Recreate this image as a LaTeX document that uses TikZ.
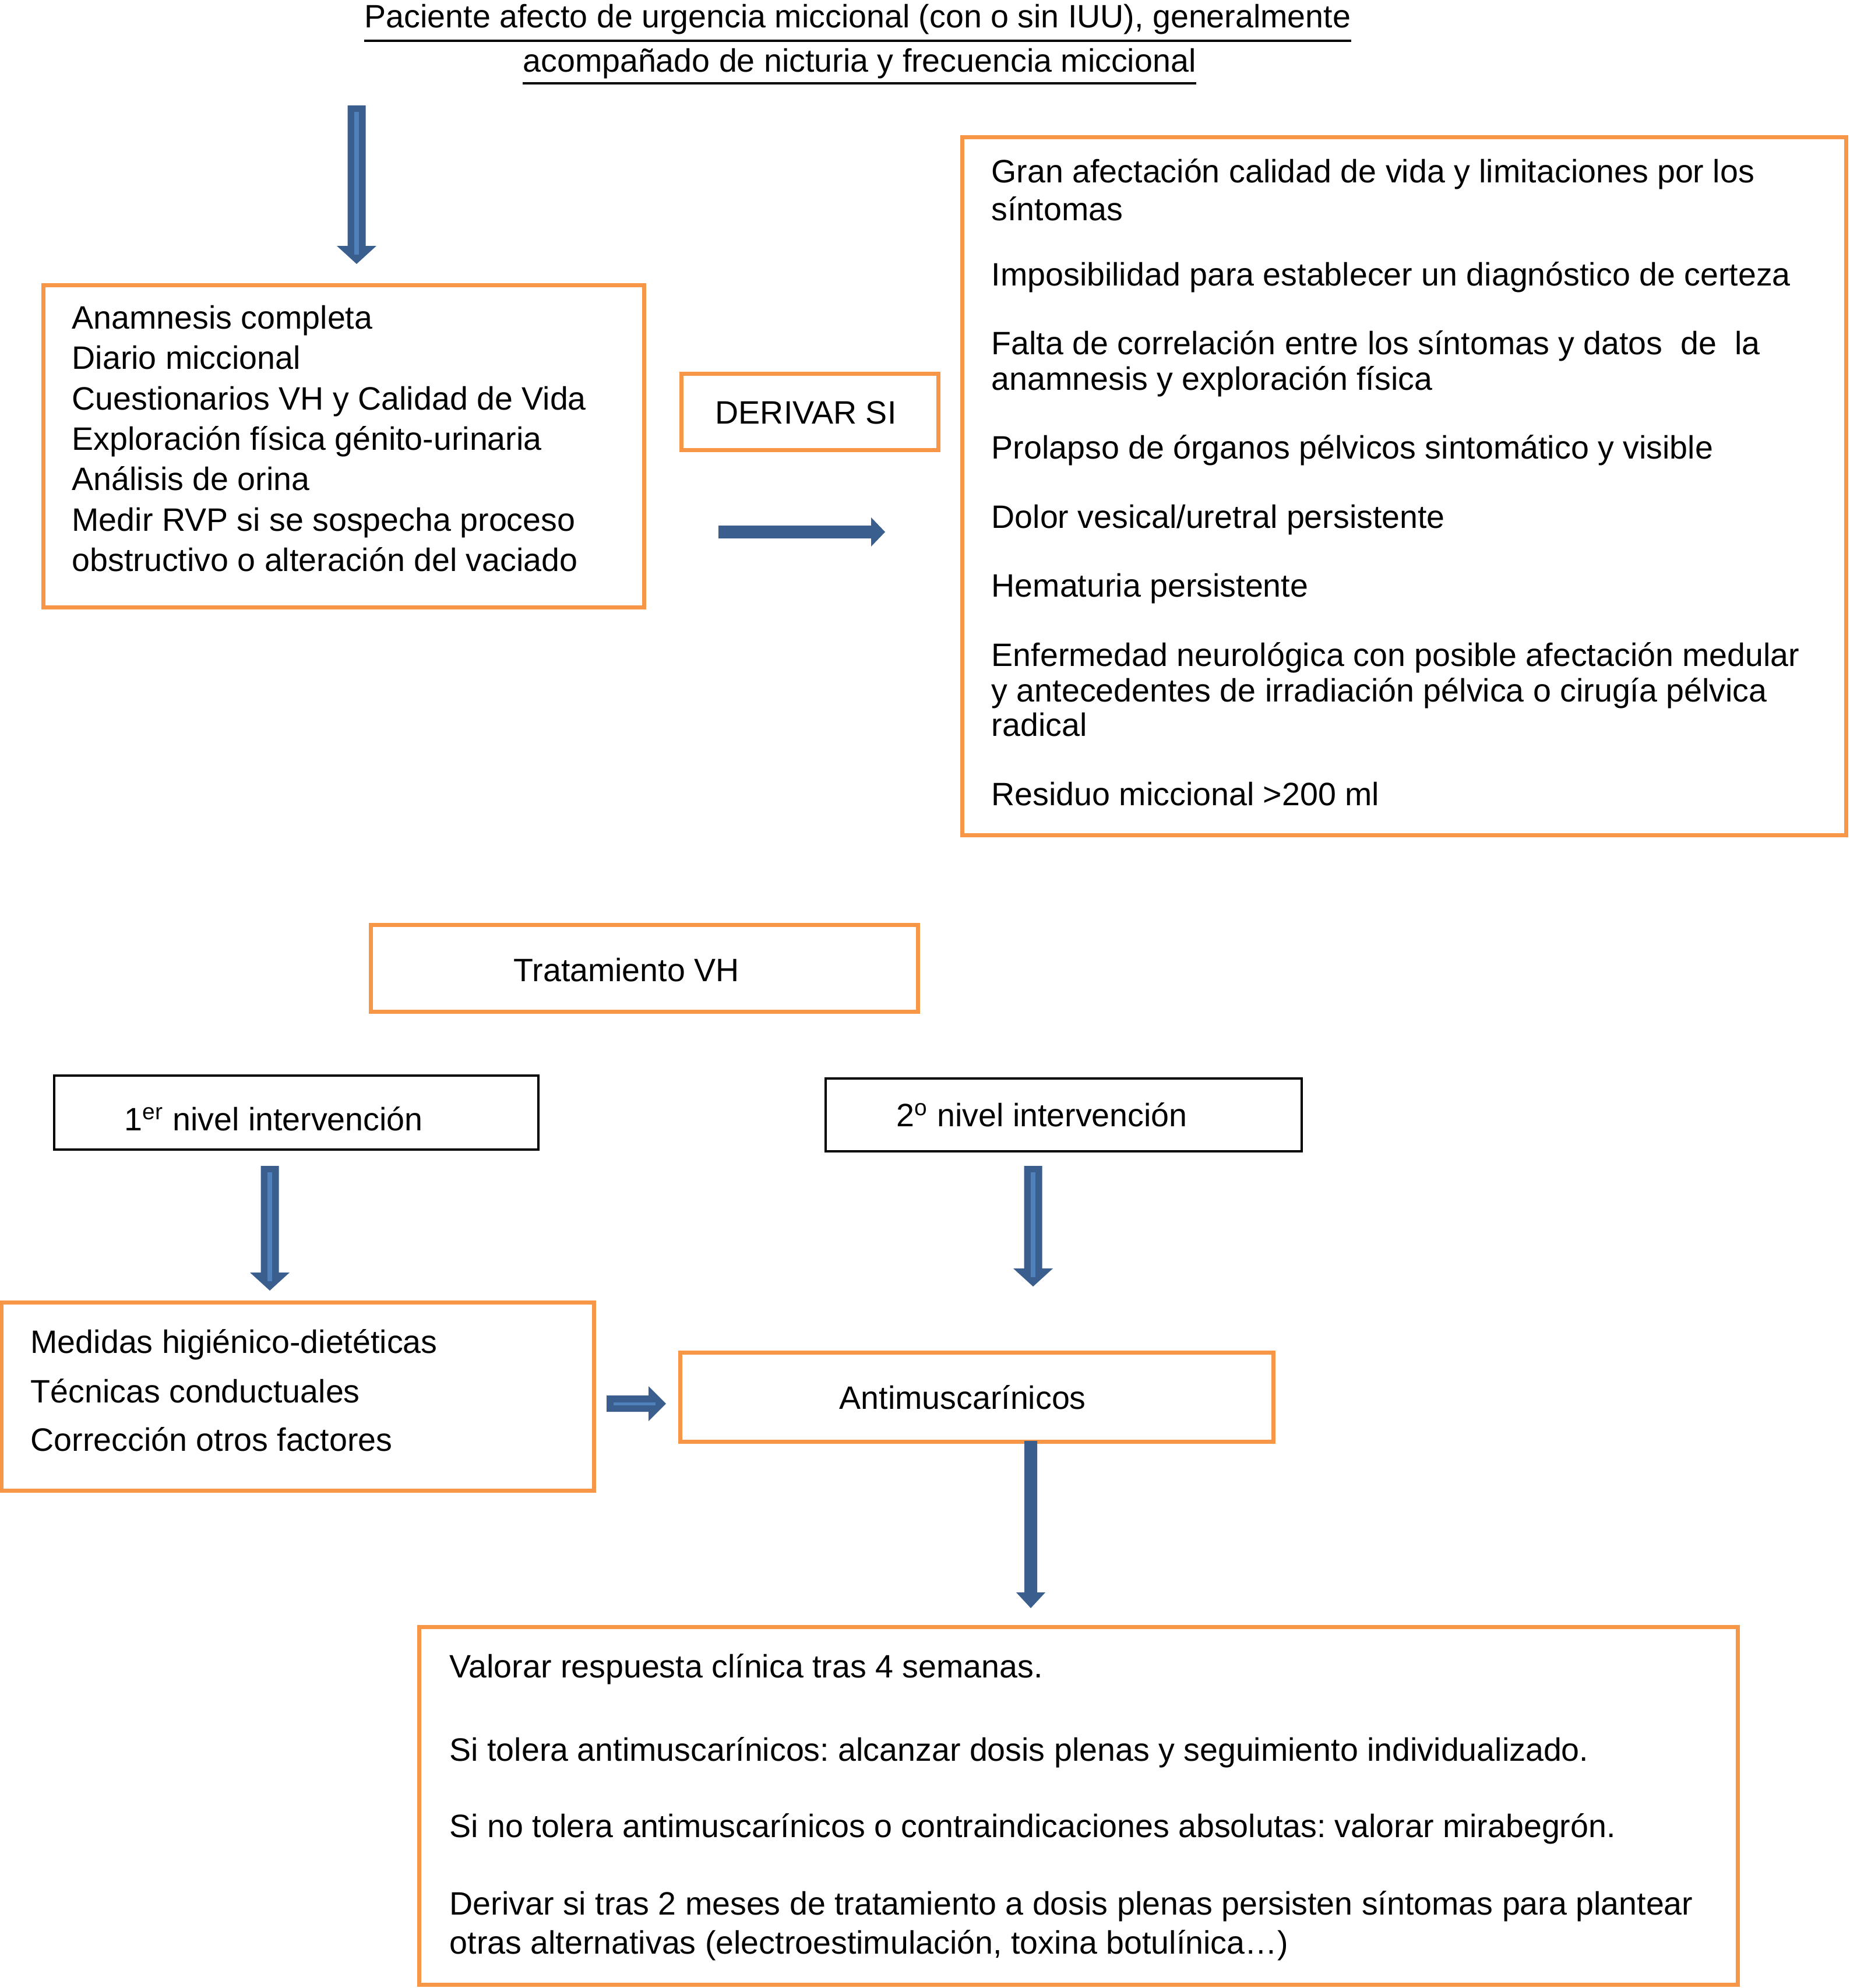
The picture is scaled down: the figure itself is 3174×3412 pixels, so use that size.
\documentclass[tikz,border=0pt]{standalone}
\usepackage{fontspec}
\setmainfont{Liberation Sans}
\usetikzlibrary{calc}
\definecolor{orangeb}{HTML}{F79646}
\definecolor{bluedark}{HTML}{3A5F8E}
\definecolor{bluelight}{HTML}{4F81BD}
\frenchspacing
% vertical block arrow: start, tip, half shaft, half head, head length
\newcommand{\myvarrow}[5]{%
  \fill[bluedark] ($(#1)+(-#3,0)$) -- ($(#1)+(#3,0)$) -- ($(#2)+(#3,-#5)$) -- ($(#2)+(#4,-#5)$) -- (#2) -- ($(#2)+(-#4,-#5)$) -- ($(#2)+(-#3,-#5)$) -- cycle;}
% horizontal block arrow
\newcommand{\myharrow}[5]{%
  \fill[bluedark] ($(#1)+(0,-#3)$) -- ($(#1)+(0,#3)$) -- ($(#2)+(-#5,#3)$) -- ($(#2)+(-#5,#4)$) -- (#2) -- ($(#2)+(-#5,-#4)$) -- ($(#2)+(-#5,-#3)$) -- cycle;}
\begin{document}
\begin{tikzpicture}[x=0.01cm,y=-0.01cm,
  obox/.style={draw=orangeb, line width=0.07cm, inner sep=0pt},
  kbox/.style={draw=black, line width=0.04cm, inner sep=0pt},
  txt/.style={anchor=base west, inner sep=0pt, font=\fontsize{15.8}{19}\selectfont\frenchspacing},
  ctxt/.style={anchor=base, inner sep=0pt, font=\fontsize{15.8}{19}\selectfont\frenchspacing},
  stripe/.style={draw=bluelight, line width=0.08cm}]
\useasboundingbox (0,0) rectangle (3174,3412);
\fill[white] (0,0) rectangle (3174,3412);

% header
\node[ctxt] (h1) at (1472,48) {Paciente afecto de urgencia miccional (con o sin IUU), generalmente};
\node[ctxt] (h2) at (1475,124) {acompañado de nicturia y frecuencia miccional};
\draw[line width=0.035cm] ($(h1.base west)+(0,22)$) -- ($(h1.base east)+(0,22)$);
\draw[line width=0.035cm] ($(h2.base west)+(0,19)$) -- ($(h2.base east)+(0,19)$);

% boxes
\node[obox, minimum width=10.30cm, minimum height=5.52cm] (anam) at (590,766) {};
\node[obox, minimum width=4.40cm, minimum height=1.30cm] (deriv) at (1390,707) {};
\node[obox, minimum width=15.16cm, minimum height=11.97cm] (crit) at (2410,834.5) {};
\node[obox, minimum width=9.38cm, minimum height=1.48cm] (trat) at (1106,1662) {};
\node[kbox, minimum width=8.31cm, minimum height=1.27cm] (n1) at (508.5,1909.5) {};
\node[kbox, minimum width=8.17cm, minimum height=1.25cm] (n2) at (1825.5,1913.5) {};
\node[obox, minimum width=10.16cm, minimum height=3.22cm] (med) at (511,2397) {};
\node[obox, minimum width=10.17cm, minimum height=1.52cm] (anti) at (1676.5,2398) {};
\node[obox, minimum width=22.62cm, minimum height=6.13cm] (fin) at (1851,3099.5) {};

% texts: anamnesis
\node[txt] (a1) at (123,564) {Anamnesis completa};
\node[txt] (a2) at (123,633) {Diario miccional};
\node[txt] (a3) at (123,703) {Cuestionarios VH y Calidad de Vida};
\node[txt] (a4) at (123,772) {Exploración física génito-urinaria};
\node[txt] (a5) at (123,841) {Análisis de orina};
\node[txt] (a6) at (123,911) {Medir RVP si se sospecha proceso};
\node[txt] (a7) at (123,980) {obstructivo o alteración del vaciado};

\node[txt] (dtxt) at (1227,727) {DERIVAR SI};

% criteria
\node[txt] (c1) at (1701,313) {Gran afectación calidad de vida y limitaciones por los};
\node[txt] (c2) at (1701,378) {síntomas};
\node[txt] (c3) at (1701,490) {Imposibilidad para establecer un diagnóstico de certeza};
\node[txt] (c4) at (1701,608) {Falta de correlación entre los síntomas y datos\ \ de\ \ la};
\node[txt] (c5) at (1701,669) {anamnesis y exploración física};
\node[txt] (c6) at (1701,787) {Prolapso de órganos pélvicos sintomático y visible};
\node[txt] (c7) at (1701,906) {Dolor vesical/uretral persistente};
\node[txt] (c8) at (1701,1024) {Hematuria persistente};
\node[txt] (c9) at (1701,1143) {Enfermedad neurológica con posible afectación medular};
\node[txt] (c10) at (1701,1204) {y antecedentes de irradiación pélvica o cirugía pélvica};
\node[txt] (c11) at (1701,1263) {radical};
\node[txt] (c12) at (1701,1382) {Residuo miccional >200 ml};

\node[txt] (ttxt) at (881,1684) {Tratamiento VH};
\node[txt] (n1txt) at (213,1940) {1\textsuperscript{er} nivel intervención};
\node[txt] (n2txt) at (1538,1933) {2\textsuperscript{o} nivel intervención};

\node[txt] (m1) at (52,2322) {Medidas higiénico-dietéticas};
\node[txt] (m2) at (52,2407) {Técnicas conductuales};
\node[txt] (m3) at (52,2490) {Corrección otros factores};

\node[txt] (antitxt) at (1440,2418) {Antimuscarínicos};

\node[txt] (f1) at (771,2879) {Valorar respuesta clínica tras 4 semanas.};
\node[txt] (f2) at (771,3022) {Si tolera antimuscarínicos: alcanzar dosis plenas y seguimiento individualizado.};
\node[txt] (f3) at (771,3153) {Si no tolera antimuscarínicos o contraindicaciones absolutas: valorar mirabegrón.};
\node[txt] (f4) at (771,3286) {Derivar si tras 2 meses de tratamiento a dosis plenas persisten síntomas para plantear};
\node[txt] (f5) at (771,3353) {otras alternativas (electroestimulación, toxina botulínica\ldots)};

% arrows
\coordinate (ar1s) at (612,181);  \coordinate (ar1e) at (612,453);
\myvarrow{ar1s}{ar1e}{15.5}{34}{31}
\draw[stripe] ($(ar1s)+(0,11)$) -- ($(ar1e)+(0,-16)$);

\coordinate (ar2s) at (1233,913); \coordinate (ar2e) at (1519,913);
\myharrow{ar2s}{ar2e}{11}{25}{24}

\coordinate (ar3s) at (463,2001); \coordinate (ar3e) at (463,2215);
\myvarrow{ar3s}{ar3e}{15.5}{34}{31}
\draw[stripe] ($(ar3s)+(0,11)$) -- ($(ar3e)+(0,-16)$);

\coordinate (ar4s) at (1773,2001); \coordinate (ar4e) at (1773,2208);
\myvarrow{ar4s}{ar4e}{15.5}{34}{31}
\draw[stripe] ($(ar4s)+(0,11)$) -- ($(ar4e)+(0,-16)$);

\coordinate (ar5s) at (1041,2409); \coordinate (ar5e) at (1143,2409);
\myharrow{ar5s}{ar5e}{14}{30}{30}
\draw[draw=bluelight, line width=0.05cm] ($(ar5s)+(12,0)$) -- ($(ar5e)+(-18,0)$);

\coordinate (ar6s) at (1769,2473); \coordinate (ar6e) at (1769,2760);
\myvarrow{ar6s}{ar6e}{11}{25}{27}
\end{tikzpicture}
\end{document}
